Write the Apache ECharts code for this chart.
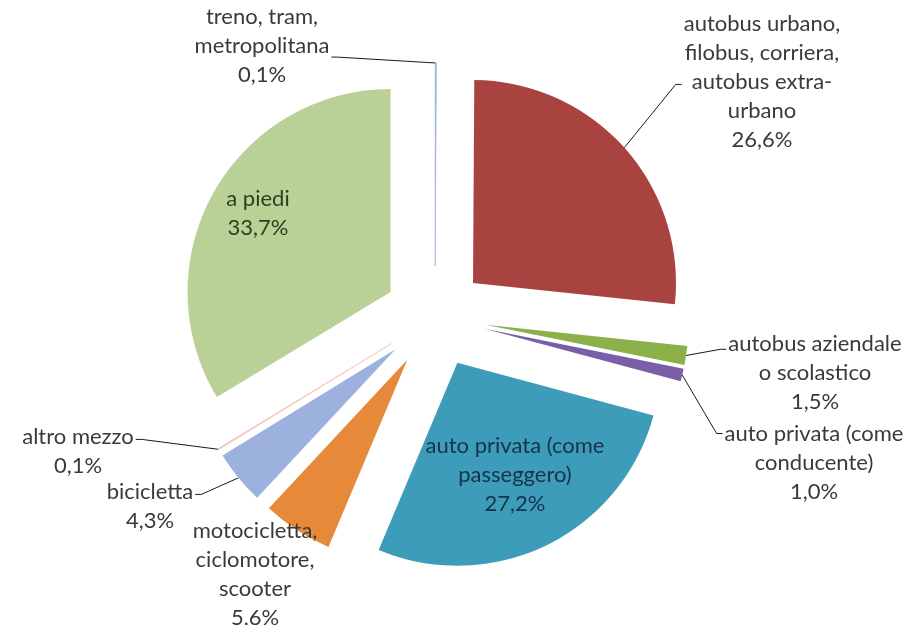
<!DOCTYPE html>
<html><head><meta charset="utf-8">
<script src="https://cdn.jsdelivr.net/npm/echarts@6/dist/echarts.min.js"></script>
<style>html,body{margin:0;padding:0;background:#fff}#c{width:911px;height:625px}</style>
</head><body><div id="c"></div>
<script>
// ---- data ----
const categories = [
  'treno, tram,\nmetropolitana',
  'autobus urbano,\nfilobus, corriera,\nautobus extra-\nurbano',
  'autobus aziendale\no scolastico',
  'auto privata (come\nconducente)',
  'auto privata (come\npasseggero)',
  'motocicletta,\nciclomotore,\nscooter',
  'bicicletta',
  'altro mezzo',
  'a piedi'
];
const values = [0.1, 26.6, 1.5, 1.0, 27.2, 5.6, 4.3, 0.1, 33.7];

// ---- styling / layout ----
const colors = ['#9aaed6', '#a9433f', '#8cb14b', '#7a5ea6', '#3c9cba', '#e6893b', '#9cb1dd', '#f3bfae', '#b9d096'];
const textColors = ['#3a3a3a', '#3a3a3a', '#3a3a3a', '#3a3a3a', '#17324a', '#3a3a3a', '#3a3a3a', '#3a3a3a', '#2d3f1f'];
const CENTER = [435, 317];
const RADIUS = 203;
const OFFSET = 51;
const LINE_H = 29;
const FONT_SIZE = 22;
const labelSpots = [
  {cx: 262, top: 2, side: 'right', row: 1.4},
  {cx: 762, top: 9, side: 'left', row: 2.1},
  {cx: 815, top: 329, side: 'left', row: 0.2},
  {cx: 814, top: 419, side: 'left', row: 0},
  {cx: 515, top: 431, inside: true},
  {cx: 255, top: 516, none: true},
  {cx: 150, top: 477, side: 'right', row: 0.1},
  {cx: 78, top: 422, side: 'right', row: 0.1},
  {cx: 258, top: 184, inside: true}
];

const fmt = v => v.toFixed(1).replace('.', ',') + '%';

const pieBase = {
  type: 'pie',
  center: CENTER,
  radius: RADIUS,
  startAngle: 90,
  clockwise: true,
  avoidLabelOverlap: false,
  emphasis: {disabled: true},
  animation: false
};

const chart = echarts.init(document.getElementById('c'), null, {renderer: 'canvas'});
chart.setOption({
  backgroundColor: '#ffffff',
  animation: false,
  series: [
    Object.assign({}, pieBase, {
      name: 'slices',
      selectedMode: 'multiple',
      selectedOffset: OFFSET,
      label: {show: false},
      labelLine: {show: false},
      data: categories.map((name, i) => ({
        name: name, value: values[i], selected: true,
        itemStyle: {color: colors[i], borderColor: colors[i], borderWidth: values[i] < 0.5 ? 0.6 : 0}
      }))
    }),
    Object.assign({}, pieBase, {
      name: 'labels',
      silent: true,
      selectedMode: false,
      label: {
        fontFamily: 'Lato',
        fontSize: FONT_SIZE,
        lineHeight: LINE_H,
        align: 'center',
        formatter: p => p.name + '\n' + fmt(p.value)
      },
      labelLine: {show: true, length: 10, length2: 10, lineStyle: {color: '#1a1a1a', width: 1}},
      labelLayout: function (p) {
        const s = labelSpots[p.dataIndex];
        const w = p.labelRect.width;
        const out = {x: s.cx, y: s.top, align: 'center', verticalAlign: 'top'};
        if (s.side && p.labelLinePoints && p.labelLinePoints.length) {
          const a = p.labelLinePoints[0];
          const vx = a[0] - CENTER[0], vy = a[1] - CENTER[1];
          const len = Math.sqrt(vx * vx + vy * vy) || 1;
          const start = [a[0] + vx / len * OFFSET, a[1] + vy / len * OFFSET];
          const ey = s.top + LINE_H * (s.row + 0.5);
          const ex = s.side === 'left' ? s.cx - w / 2 - 2 : s.cx + w / 2 + 2;
          const bx = s.side === 'left' ? ex - 6 : ex + 6;
          out.labelLinePoints = [start, [bx, ey], [ex, ey]];
        }
        return out;
      },
      data: categories.map((name, i) => {
        const s = labelSpots[i];
        return {
          name: name,
          value: values[i],
          itemStyle: {color: 'rgba(0,0,0,0)'},
          label: {position: s.inside ? 'inside' : 'outside', color: textColors[i]},
          labelLine: {show: !!s.side}
        };
      })
    })
  ]
});
</script>
</body></html>
